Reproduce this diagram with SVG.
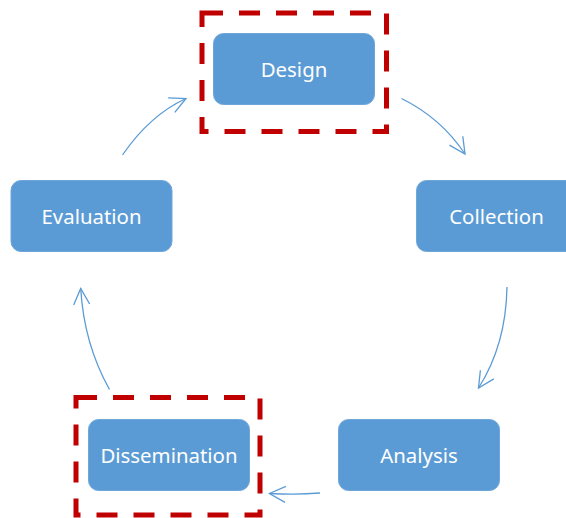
<svg xmlns="http://www.w3.org/2000/svg" width="566" height="518" viewBox="0 0 566 518">
  <defs>
    <marker id="arrow" viewBox="0 0 20 20" refX="18" refY="10" markerWidth="20" markerHeight="20" markerUnits="userSpaceOnUse" orient="auto">
      <path d="M2,2 L18,10 L2,18" fill="none" stroke="#5B9BD5" stroke-width="1.3"/>
    </marker>
  </defs>
  <style>
    .box { fill: #5B9BD5; stroke: #6FA6DA; stroke-width: 1; }
    .label { fill: #FFFFFF; font-family: "Noto Sans", "Open Sans", sans-serif; font-size: 20.4px; text-anchor: middle; }
    .hl { fill: none; stroke: #C00000; stroke-width: 5; stroke-dasharray: 21 16; }
    .link { fill: none; stroke: #5B9BD5; stroke-width: 1.3; marker-end: url(#arrow); }
  </style>
  <rect width="566" height="518" fill="#FFFFFF"/>

  <!-- emphasis frames -->
  <rect class="hl" x="202" y="13" width="184.5" height="118.5"/>
  <rect class="hl" x="76" y="397.5" width="184" height="117.5"/>

  <g id="design">
    <rect class="box" x="213.5" y="33.5" width="161" height="71" rx="10"/>
    <text class="label" x="294" y="76.5">Design</text>
  </g>
  <g id="collection">
    <rect class="box" x="416.5" y="180.5" width="161" height="71" rx="10"/>
    <text class="label" x="496.5" y="223.5">Collection</text>
  </g>
  <g id="analysis">
    <rect class="box" x="338.5" y="419.5" width="161" height="71" rx="10"/>
    <text class="label" x="419" y="462.5">Analysis</text>
  </g>
  <g id="dissemination">
    <rect class="box" x="88.5" y="419.5" width="161" height="71" rx="10"/>
    <text class="label" x="169" y="462.5">Dissemination</text>
  </g>
  <g id="evaluation">
    <rect class="box" x="11" y="180.5" width="161" height="71" rx="10"/>
    <text class="label" x="91.5" y="223.5">Evaluation</text>
  </g>

  <g id="connectors">
    <path class="link" d="M401.5,98.5 Q441,118 465,154"/>
    <path class="link" d="M507,287 Q506,345 478.5,388"/>
    <path class="link" d="M320,493 Q297,495 269.5,493.5"/>
    <path class="link" d="M109.5,389.5 Q84,344 80.7,288.5"/>
    <path class="link" d="M122.5,155 Q150,115 186,98.5"/>
  </g>
</svg>
